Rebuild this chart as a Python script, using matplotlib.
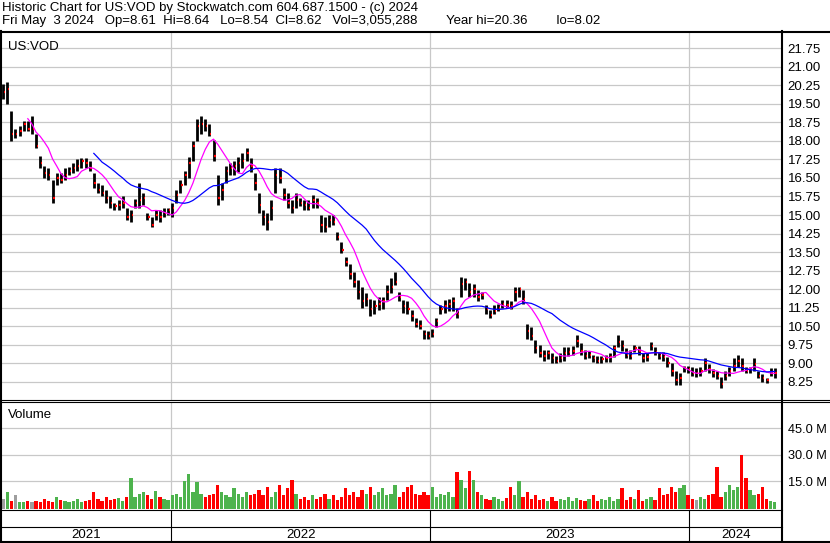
import numpy as np
import matplotlib
matplotlib.use("Agg")
import matplotlib.pyplot as plt
from matplotlib.lines import Line2D

plt.rcParams['font.family'] = ['Liberation Sans', 'DejaVu Sans']

# Price bars, one bar per 4 trading days (high / low / close)
hi = [20.3, 20.4, 19.2, 18.5, 18.6, 18.8, 18.8, 19.0, 18.3, 17.4,
      17.0, 16.9, 16.4, 16.7, 16.7, 16.9, 16.95, 17.1, 17.25, 17.3,
      17.3, 17.2, 16.7, 16.3, 16.2, 16.0, 15.75, 15.5, 15.6, 15.75,
      15.3, 15.2, 15.65, 16.3, 15.9, 15.1, 14.9, 15.2, 15.2, 15.3,
      15.3, 15.5, 16.0, 16.4, 16.8, 17.35, 18.0, 18.9, 19.0, 18.9,
      18.7, 18.05, 16.6, 16.3, 17.0, 17.1, 17.2, 17.35, 17.5, 17.7,
      17.3, 16.7, 15.9, 15.2, 15.1, 15.6, 16.9, 16.9, 16.1, 15.9,
      15.6, 15.9, 15.7, 15.6, 15.6, 15.8, 15.7, 15.0, 14.9, 15.0,
      15.0, 14.3, 13.9, 13.3, 13.0, 12.7, 12.35, 12.1, 11.85, 11.6,
      11.55, 11.7, 11.7, 12.15, 12.45, 12.7, 11.9, 11.55, 11.5, 11.15,
      10.85, 10.75, 10.35, 10.3, 10.4, 10.85, 11.35, 11.55, 11.6, 11.7,
      11.25, 12.5, 12.45, 12.25, 12.2, 11.95, 11.9, 11.35, 11.15, 11.35,
      11.4, 11.55, 11.55, 11.5, 12.1, 12.1, 11.95, 10.6, 10.45, 9.95,
      9.75, 9.55, 9.55, 9.4, 9.3, 9.4, 9.65, 9.65, 9.7, 10.15,
      9.8, 9.55, 9.5, 9.35, 9.3, 9.3, 9.35, 9.4, 9.75, 10.15,
      9.95, 9.6, 9.55, 9.75, 9.7, 9.4, 9.4, 9.85, 9.65, 9.45,
      9.45, 9.25, 9.0, 8.7, 8.6, 8.9, 8.9, 8.85, 8.8, 8.85,
      9.2, 8.95, 8.75, 8.7, 8.45, 8.7, 8.85, 9.2, 9.33, 9.2,
      8.85, 8.85, 9.2, 8.7, 8.55, 8.4, 8.8, 8.8]
lo = [19.7, 19.5, 18.0, 18.1, 18.2, 18.4, 18.4, 18.3, 17.7, 16.9,
      16.5, 16.4, 15.5, 16.2, 16.3, 16.4, 16.6, 16.7, 16.8, 16.9,
      16.9, 16.8, 16.1, 15.9, 15.75, 15.5, 15.3, 15.2, 15.2, 15.3,
      14.8, 14.7, 15.3, 15.3, 15.4, 14.8, 14.5, 14.8, 14.7, 14.9,
      15.0, 14.9, 15.5, 15.9, 16.2, 16.5, 17.2, 18.0, 18.3, 18.4,
      18.2, 17.2, 15.4, 15.6, 16.3, 16.6, 16.6, 16.75, 16.9, 17.2,
      16.75, 16.0, 15.1, 14.6, 14.4, 14.8, 15.9, 16.3, 15.6, 15.3,
      15.1, 15.3, 15.35, 15.2, 15.2, 15.3, 15.3, 14.3, 14.3, 14.5,
      14.6, 14.0, 13.45, 12.95, 12.4, 12.1, 11.6, 11.25, 11.3, 10.9,
      11.0, 11.15, 11.2, 11.55, 11.85, 12.15, 11.5, 11.05, 11.0, 10.7,
      10.45, 10.4, 10.0, 10.0, 10.05, 10.45, 11.0, 11.05, 11.1, 11.1,
      10.85, 11.7, 11.95, 11.7, 11.7, 11.5, 11.6, 11.0, 10.85, 11.0,
      11.1, 11.25, 11.25, 11.2, 11.5, 11.7, 11.4, 10.0, 9.95, 9.4,
      9.25, 9.1, 9.15, 9.0, 9.0, 9.05, 9.1, 9.3, 9.35, 9.65,
      9.35, 9.15, 9.2, 9.05, 9.0, 9.0, 9.05, 9.05, 9.25, 9.65,
      9.5, 9.2, 9.15, 9.45, 9.35, 9.05, 9.1, 9.55, 9.35, 9.15,
      9.1, 8.85, 8.5, 8.1, 8.1, 8.65, 8.6, 8.5, 8.45, 8.5,
      8.7, 8.6, 8.45, 8.35, 8.0, 8.3, 8.5, 8.7, 8.85, 8.7,
      8.6, 8.6, 8.7, 8.4, 8.25, 8.2, 8.5, 8.4]
close = [20.0, 20.1, 18.3, 18.3, 18.4, 18.7, 18.5, 18.5, 17.8, 17.1,
         16.7, 16.6, 15.7, 16.5, 16.4, 16.6, 16.8, 16.9, 17.0, 17.2,
         17.1, 16.9, 16.3, 16.0, 15.9, 15.7, 15.5, 15.35, 15.4, 15.5,
         14.9, 15.0, 15.5, 15.6, 15.7, 14.9, 14.6, 15.0, 14.9, 15.1,
         15.2, 15.3, 15.8, 16.2, 16.6, 17.1, 17.8, 18.6, 18.7, 18.6,
         18.3, 17.4, 15.7, 16.0, 16.8, 16.9, 17.0, 17.1, 17.2, 17.5,
         17.0, 16.3, 15.4, 14.9, 14.7, 15.3, 16.6, 16.5, 15.8, 15.5,
         15.3, 15.6, 15.5, 15.4, 15.3, 15.6, 15.5, 14.6, 14.5, 14.8,
         14.7, 14.1, 13.6, 13.1, 12.6, 12.3, 11.9, 11.5, 11.6, 11.2,
         11.3, 11.4, 11.5, 11.9, 12.1, 12.3, 11.7, 11.3, 11.2, 10.9,
         10.6, 10.5, 10.2, 10.1, 10.2, 10.7, 11.2, 11.3, 11.4, 11.5,
         11.0, 12.2, 12.3, 11.9, 12.0, 11.7, 11.75, 11.2, 10.95, 11.1,
         11.25, 11.4, 11.35, 11.3, 11.9, 12.0, 11.6, 10.3, 10.1, 9.6,
         9.4, 9.3, 9.4, 9.2, 9.1, 9.2, 9.4, 9.45, 9.5, 9.9,
         9.5, 9.3, 9.35, 9.2, 9.1, 9.15, 9.2, 9.25, 9.6, 9.85,
         9.7, 9.35, 9.3, 9.6, 9.5, 9.2, 9.25, 9.7, 9.45, 9.3,
         9.25, 9.0, 8.7, 8.3, 8.4, 8.8, 8.75, 8.6, 8.6, 8.7,
         9.0, 8.75, 8.6, 8.5, 8.15, 8.5, 8.7, 8.9, 9.1, 8.9,
         8.7, 8.75, 8.95, 8.5, 8.4, 8.3, 8.6, 8.62]

# Volume (millions of shares), same 4-day steps
volume_m = [5, 9, 4, 7, 3.5, 3.5, 4, 3.5,
            4, 3.5, 5, 4, 3.5, 6, 4.5, 4, 3.5, 4, 5, 3.5, 4, 4.5, 9,
            5, 4, 6, 4.5, 5, 5.5, 4, 6,
            17,
            6, 8, 9, 7, 5, 9.5, 6, 5, 4.5,
            7, 8, 6, 15, 19, 9, 14.5, 8, 6, 7,
            8, 13, 9, 7, 6, 11, 8, 6, 9, 7, 8,
            10, 7, 12, 6, 9, 13, 7, 11, 16, 8,
            5, 6, 4.5, 7, 5, 6, 8, 5, 7, 4.5, 6, 11, 7, 9, 6,
            10, 8, 12, 7, 9, 11, 7, 8, 13, 6, 9, 12, 13, 8, 7,
            9, 7, 12, 6, 8, 7, 9, 6,
            20, 16, 11, 21, 16, 9, 7,
            5, 4.5, 6, 5, 4, 5.5, 12,
            7, 15, 6, 9, 5, 7,
            4.5, 5, 4, 6, 4, 5, 4.5, 6, 4, 5.5, 4.5, 4, 5, 7,
            4, 5, 4.5, 6, 4, 5, 11, 4.5, 6, 5, 10, 4, 5, 6, 4.5, 11, 7,
            8, 12, 9, 11, 13, 7, 5,
            4.5, 6, 5, 7, 8, 23, 6, 9,
            13, 10, 12, 30, 17, 10, 7, 8,
            12, 5, 4, 3.5]

year_labels = ['2021', '2022', '2023', '2024']
year_starts = [164, 415, 666]   # trading-day index where 2022, 2023, 2024 begin
last_day = 756                  # right edge of the plot, in trading days
price_ticks = [8.25, 9.00, 9.75, 10.50, 11.25, 12.00, 12.75, 13.50, 14.25, 15.00,
               15.75, 16.50, 17.25, 18.00, 18.75, 19.50, 20.25, 21.00, 21.75]
vol_ticks = [15, 30, 45]

header1 = "Historic Chart for US:VOD by Stockwatch.com 604.687.1500 - (c) 2024"
header2 = ("Fri May  3 2024   Op=8.61  Hi=8.64   Lo=8.54  Cl=8.62   "
           "Vol=3,055,288        Year hi=20.36        lo=8.02")

days = np.arange(len(close)) * 4 + 1
close_s = np.array(close)
ma_short = np.convolve(close_s, np.ones(7) / 7, mode='valid')
ma_long = np.convolve(close_s, np.ones(23) / 23, mode='valid')

W, H = 830, 543
fig = plt.figure(figsize=(W / 100, H / 100), dpi=100)


def px_axes(x0, y0, x1, y1):
    # axes placed in pixel coordinates of the picture (y from the top)
    return fig.add_axes([x0 / W, 1 - y1 / H, (x1 - x0) / W, (y1 - y0) / H])


grid_kw = dict(color='#c8c8c8', lw=0.9)

# Price panel
ax = px_axes(2, 32, 782, 400)
for y in year_starts:
    ax.axvline(y, **grid_kw, zorder=0)
ax.set_yticks(price_ticks)
ax.set_yticklabels([f'{t:.2f}' for t in price_ticks])
ax.yaxis.grid(True, **grid_kw)
ax.set_axisbelow(True)
ax.vlines(days, lo, hi, color='black', lw=2.0, zorder=2)
ax.hlines(close, days + 0.6, days + 2.0, color='#ff0000', lw=1.6, zorder=3)
ax.plot(days[6:], ma_short, color='#ff00ff', lw=0.9, zorder=4)
ax.plot(days[22:], ma_long, color='#0000ff', lw=0.9, zorder=4)
ax.set_xlim(0, last_day)
ax.set_ylim(7.51, 22.41)
ax.text(6, 0.975, 'US:VOD', transform=ax.get_xaxis_transform(), fontsize=9.5, va='top')

# Volume panel
axv = px_axes(2, 402, 782, 509)
for y in year_starts:
    axv.axvline(y, **grid_kw, zorder=0)
axv.set_yticks(vol_ticks)
axv.set_yticklabels([f'{t:.1f} M' for t in vol_ticks])
axv.yaxis.grid(True, **grid_kw)
axv.set_axisbelow(True)
vbase = -0.7
vol_colors = ['#9e9e9e']
for i in range(1, len(close)):
    if close[i] > close[i - 1]:
        vol_colors.append('#4db34d')
    elif close[i] < close[i - 1]:
        vol_colors.append('#ff0000')
    else:
        vol_colors.append('#9e9e9e')
axv.bar(days, np.array(volume_m) - vbase, bottom=vbase, width=3.2,
        color=vol_colors, linewidth=0, zorder=2)
axv.set_xlim(0, last_day)
axv.set_ylim(vbase, 59.9)
axv.text(6, 0.93, 'Volume', transform=axv.get_xaxis_transform(), fontsize=9.5, va='top')

# Year strip
axy = px_axes(2, 527, 782, 542)
bounds = [0] + year_starts + [last_day]
for i, lab in enumerate(year_labels):
    axy.text((bounds[i] + bounds[i + 1]) / 2, 0.45, lab, ha='center', va='center',
             fontsize=9.5, transform=axy.get_xaxis_transform())
axy.set_xlim(0, last_day)
axy.set_ylim(0, 1)

for a in (ax, axv, axy):
    for s in a.spines.values():
        s.set_visible(False)
    a.tick_params(axis='both', length=0, labelsize=9.5, pad=4)
    a.yaxis.tick_right()
    a.set_xticks([])
axy.set_yticks([])
axv.tick_params(axis='y', labelsize=9.2, pad=4)


def fig_line(x0, y0, x1, y1, lw=1.0):
    fig.add_artist(Line2D([x0 / W, x1 / W], [1 - y0 / H, 1 - y1 / H],
                          color='black', lw=lw))


# Frame lines
fig_line(0, 31.5, W, 31.5, lw=1.5)
fig_line(0, 399.5, W, 399.5, lw=0.8)
fig_line(0, 401.5, W, 401.5, lw=0.8)
fig_line(0, 509.5, 782, 509.5, lw=0.8)
fig_line(0, 526.5, 782, 526.5, lw=0.8)
fig_line(0, 542, W, 542, lw=1.5)
fig_line(1, 31, 1, H, lw=1.5)
fig_line(782, 31, 782, H, lw=1.5)
for d in year_starts:
    xp = 2 + d * 780 / last_day
    fig_line(xp, 509.5, xp, 542, lw=0.8)

# Header
fig.text(2 / W, 1 - 8 / H, header1, fontsize=9.5, va='center')
fig.text(2 / W, 1 - 21 / H, header2, fontsize=9.5, va='center')

plt.savefig('out.png', dpi=100)
